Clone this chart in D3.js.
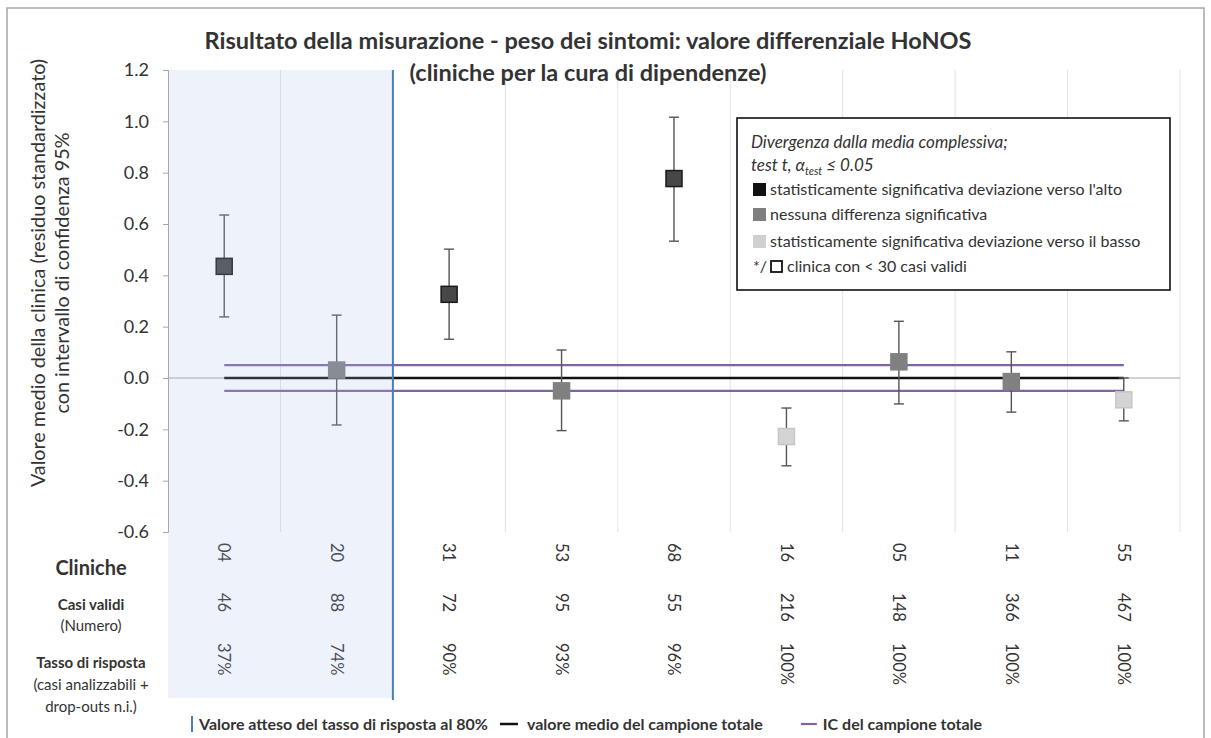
<!DOCTYPE html>
<html>
<head>
<meta charset="utf-8">
<script src="https://cdn.jsdelivr.net/npm/d3@7"></script>
<style>
  body { margin: 0; background: #fff; }
  svg { display: block; }
  text { font-family: Lato, "Open Sans", sans-serif; fill: #333; }
</style>
</head>
<body>
<script>
// clinics, in the order they are drawn
var clinics = ["04", "20", "31", "53", "68", "16", "05", "11", "55"];
var casiValidi = [46, 88, 72, 95, 55, 216, 148, 366, 467];
var tassoRisposta = [37, 74, 90, 93, 96, 100, 100, 100, 100];
var meanVal = [0.435, 0.031, 0.326, -0.05, 0.777, -0.228, 0.063, -0.014, -0.085];
var ciUpper = [0.635, 0.245, 0.502, 0.109, 1.016, -0.117, 0.221, 0.102, 0.0];
var ciLower = [0.238, -0.183, 0.151, -0.205, 0.533, -0.342, -0.101, -0.133, -0.167];
var signif = ["up", "none", "up", "none", "up", "down", "none", "none", "down"];
var totalMean = 0;
var totalCI = [-0.05, 0.05];
var expectedRate = 80;
var yTicks = [-0.6, -0.4, -0.2, 0.0, 0.2, 0.4, 0.6, 0.8, 1.0, 1.2];

(function () {
    var width = 1211, height = 738;
    var pLeft = 168, pRight = 1180, pTop = 70, pBottom = 532, tableBottom = 698;

    var svg = d3.select("body").append("svg")
        .attr("width", width)
        .attr("height", height);

    // outer frame
    svg.append("rect")
        .attr("x", 7).attr("y", 8)
        .attr("width", 1197).attr("height", 745)
        .attr("fill", "none")
        .attr("stroke", "#a6a6a6")
        .attr("stroke-width", 1.5);

    var x = d3.scaleBand().domain(clinics).range([pLeft, pRight]);
    var y = d3.scaleLinear().domain([-0.6, 1.2]).range([pBottom, pTop]);
    var cx = function (c) { return x(c) + x.bandwidth() / 2; };

    var fill = d3.scaleOrdinal().domain(["up", "none", "down"]).range(["#474747", "#808080", "#d4d4d4"]);
    var stroke = d3.scaleOrdinal().domain(["up", "none", "down"]).range(["#1a1a1a", "#808080", "#c6c6c6"]);

    // vertical gridlines between clinics
    svg.append("g").selectAll("line")
        .data(clinics.slice(1).concat(["end"]))
        .enter().append("line")
        .attr("x1", function (c) { return c == "end" ? pRight : x(c); })
        .attr("x2", function (c) { return c == "end" ? pRight : x(c); })
        .attr("y1", pTop).attr("y2", pBottom)
        .attr("stroke", "#e3e3e3");

    // y axis
    var yAxis = svg.append("g")
        .attr("transform", "translate(" + pLeft + ",0)")
        .call(d3.axisLeft(y).tickValues(yTicks).tickSize(5).tickPadding(14)
            .tickFormat(function (d) { return d3.format(".1f")(d).replace("−", "-"); }));
    yAxis.select(".domain").attr("stroke", "#a6a6a6");
    yAxis.selectAll(".tick line").attr("stroke", "#a6a6a6");
    yAxis.selectAll(".tick text")
        .attr("font-family", "Lato, sans-serif")
        .attr("font-size", 18)
        .attr("fill", "#404040");

    // zero line
    svg.append("line")
        .attr("x1", pLeft).attr("x2", pRight)
        .attr("y1", y(0)).attr("y2", y(0))
        .attr("stroke", "#a6a6a6");

    // total sample CI and mean
    var x0 = cx(clinics[0]), x1 = cx(clinics[clinics.length - 1]);
    svg.append("g").selectAll("line")
        .data(totalCI)
        .enter().append("line")
        .attr("x1", x0).attr("x2", x1)
        .attr("y1", function (d) { return y(d); })
        .attr("y2", function (d) { return y(d); })
        .attr("stroke", "#8064a2")
        .attr("stroke-width", 2.2);
    svg.append("line")
        .attr("x1", x0).attr("x2", x1)
        .attr("y1", y(totalMean)).attr("y2", y(totalMean))
        .attr("stroke", "#111")
        .attr("stroke-width", 2.5);

    // error bars
    var bars = svg.append("g").selectAll("g")
        .data(clinics)
        .enter().append("g")
        .attr("stroke", "#555")
        .attr("stroke-width", 1.4);
    bars.append("line")
        .attr("x1", cx).attr("x2", cx)
        .attr("y1", function (c, i) { return y(ciUpper[i]); })
        .attr("y2", function (c, i) { return y(ciLower[i]); });
    [ciUpper, ciLower].forEach(function (arr) {
        bars.append("line")
            .attr("x1", function (c) { return cx(c) - 5; })
            .attr("x2", function (c) { return cx(c) + 5; })
            .attr("y1", function (c, i) { return y(arr[i]); })
            .attr("y2", function (c, i) { return y(arr[i]); });
    });

    // markers
    var s = 16;
    svg.append("g").selectAll("rect")
        .data(clinics)
        .enter().append("rect")
        .attr("x", function (c) { return cx(c) - s / 2; })
        .attr("y", function (c, i) { return y(meanVal[i]) - s / 2; })
        .attr("width", s).attr("height", s)
        .attr("fill", function (c, i) { return fill(signif[i]); })
        .attr("stroke", function (c, i) { return stroke(signif[i]); })
        .attr("stroke-width", 1.5);

    // table rows under the plot
    var rows = [
        { top: 543, vals: clinics },
        { top: 593, vals: casiValidi },
        { top: 643, vals: tassoRisposta.map(function (d) { return d + "%"; }) }
    ];
    rows.forEach(function (r) {
        svg.append("g").selectAll("text")
            .data(r.vals)
            .enter().append("text")
            .attr("transform", function (d, i) { return "translate(" + cx(clinics[i]) + "," + r.top + ") rotate(90)"; })
            .attr("dy", "0.35em")
            .attr("font-family", "Liberation Sans, Arial, sans-serif")
            .attr("font-size", 16.5)
            .attr("fill", "#333")
            .text(function (d) { return d; });
    });

    // shaded area for clinics below the expected response rate
    var below = clinics.filter(function (c, i) { return tassoRisposta[i] < expectedRate; });
    var cut = x(below[below.length - 1]) + x.bandwidth();
    svg.append("rect")
        .attr("x", pLeft).attr("y", pTop)
        .attr("width", cut - pLeft).attr("height", tableBottom - pTop)
        .attr("fill", "#a9c4ec")
        .attr("opacity", 0.2);
    svg.append("line")
        .attr("x1", cut).attr("x2", cut)
        .attr("y1", pTop).attr("y2", tableBottom + 2)
        .attr("stroke", "#4a7ebb")
        .attr("stroke-width", 2);

    // row headers
    var hx = 91;
    function label(txt, yy, size, bold) {
        svg.append("text")
            .attr("x", hx).attr("y", yy)
            .attr("text-anchor", "middle")
            .attr("font-size", size)
            .attr("font-weight", bold ? "bold" : "normal")
            .attr("fill", "#111")
            .text(txt);
    }
    label("Cliniche", 575, 20, true);
    label("Casi validi", 610, 15, true);
    label("(Numero)", 631, 15, false);
    label("Tasso di risposta", 668, 15, true);
    label("(casi analizzabili +", 690, 15, false);
    label("drop-outs n.i.)", 712, 15, false);

    // title
    var title = svg.append("text")
        .attr("text-anchor", "middle")
        .attr("font-size", 23.5)
        .attr("font-weight", "bold")
        .attr("fill", "#111");
    title.append("tspan").attr("x", 588).attr("y", 49)
        .text("Risultato della misurazione - peso dei sintomi: valore differenziale HoNOS");
    title.append("tspan").attr("x", 588).attr("y", 81)
        .text("(cliniche per la cura di dipendenze)");

    // y axis title
    var yt = svg.append("text")
        .attr("transform", "translate(0,273) rotate(-90)")
        .attr("text-anchor", "middle")
        .attr("font-size", 19.8)
        .attr("fill", "#222");
    yt.append("tspan").attr("x", 0).attr("y", 45).text("Valore medio della clinica (residuo standardizzato)");
    yt.append("tspan").attr("x", 0).attr("y", 69).text("con intervallo di confidenza 95%");

    // legend box
    var lg = svg.append("g").attr("transform", "translate(737,118)");
    lg.append("rect")
        .attr("width", 433).attr("height", 172)
        .attr("fill", "#fff")
        .attr("stroke", "#111")
        .attr("stroke-width", 1.6);
    lg.append("text").attr("x", 14).attr("y", 30)
        .attr("font-size", 17).attr("font-style", "italic").attr("fill", "#111")
        .text("Divergenza dalla media complessiva;");
    var tt = lg.append("text").attr("x", 14).attr("y", 53)
        .attr("font-size", 17).attr("font-style", "italic").attr("fill", "#111");
    tt.append("tspan").text("test t, α");
    tt.append("tspan").attr("font-size", 11).attr("dy", 4).text("test");
    tt.append("tspan").attr("dy", -4).text(" ≤ 0.05");

    var legendItems = [
        { key: "up", text: "statisticamente significativa deviazione verso l'alto", color: "#111" },
        { key: "none", text: "nessuna differenza significativa", color: "#7f7f7f" },
        { key: "down", text: "statisticamente significativa deviazione verso il basso", color: "#d0d0d0" }
    ];
    var items = lg.selectAll(".item")
        .data(legendItems)
        .enter().append("g")
        .attr("transform", function (d, i) { return "translate(16," + [71, 96, 123][i] + ")"; });
    items.append("rect")
        .attr("y", -6).attr("width", 13).attr("height", 13)
        .attr("fill", function (d) { return d.color; });
    items.append("text")
        .attr("x", 17).attr("y", 6)
        .attr("font-size", 16).attr("fill", "#222")
        .text(function (d) { return d.text; });
    var small = lg.append("g").attr("transform", "translate(16,148)");
    small.append("text").attr("y", 6).attr("font-size", 16).attr("fill", "#222").text("*/");
    small.append("rect").attr("x", 18).attr("y", -5).attr("width", 11).attr("height", 11)
        .attr("fill", "#fff").attr("stroke", "#111").attr("stroke-width", 1.8);
    small.append("text").attr("x", 34).attr("y", 6).attr("font-size", 16).attr("fill", "#222")
        .text("clinica con < 30 casi validi");

    // bottom legend, laid out left to right
    var bl = svg.append("g").attr("transform", "translate(0,724)");
    var bx = 192;
    function blText(txt) {
        var t = bl.append("text").attr("x", bx).attr("y", 5.5)
            .attr("font-size", 16).attr("font-weight", "bold").attr("fill", "#222")
            .text(txt);
        bx += t.node().getComputedTextLength();
    }
    bl.append("line").attr("x1", bx).attr("x2", bx).attr("y1", -8).attr("y2", 8)
        .attr("stroke", "#4a7ebb").attr("stroke-width", 2);
    bx += 7;
    blText("Valore atteso del tasso di risposta al " + expectedRate + "%");
    bx += 12;
    bl.append("line").attr("x1", bx).attr("x2", bx + 18).attr("y1", 0).attr("y2", 0)
        .attr("stroke", "#111").attr("stroke-width", 2.5);
    bx += 27;
    blText("valore medio del campione totale");
    bx += 38;
    bl.append("line").attr("x1", bx).attr("x2", bx + 16).attr("y1", 0).attr("y2", 0)
        .attr("stroke", "#8064a2").attr("stroke-width", 2.2);
    bx += 22;
    blText("IC del campione totale");
})();
</script>
</body>
</html>
